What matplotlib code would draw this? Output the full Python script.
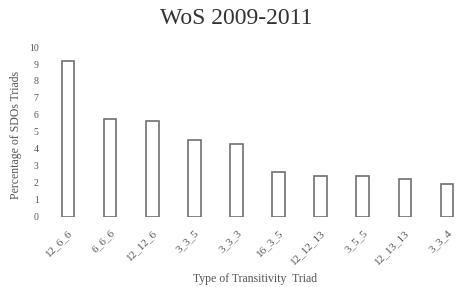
import matplotlib
matplotlib.use("Agg")
import matplotlib.pyplot as plt

# Data
triads = ["12_6_6", "6_6_6", "12_12_6", "3_3_5", "3_3_3",
          "16_3_5", "12_12_13", "3_5_5", "12_13_13", "3_3_4"]
percent = [9.2, 5.75, 5.65, 4.5, 4.3, 2.65, 2.4, 2.4, 2.2, 1.9]
yticks = list(range(0, 11))

plt.rcParams['font.family'] = ['Liberation Serif', 'DejaVu Serif']

fig = plt.figure(figsize=(4.6, 2.87), dpi=100)
ax = fig.add_axes([47 / 460, 0.245, 413 / 460, 0.591])

ax.bar(range(len(triads)), percent, width=0.3, color='white',
       edgecolor='#707070', linewidth=1.2)

ax.set_xlim(-0.5, 9.31)
ax.set_ylim(0, 10)
ax.set_yticks(yticks)
ax.set_xticks(range(len(triads)))
ax.set_xticklabels(triads, rotation=45, ha='right', rotation_mode='anchor')
ax.tick_params(axis='both', length=0, labelsize=7, labelcolor='#555555', pad=6)
ax.tick_params(axis='x', labelsize=8, pad=8)

for s in ax.spines.values():
    s.set_visible(False)

fig.text(0.514, 0.934, "WoS 2009-2011", ha='center', va='center',
         fontsize=17, color='#333333')
fig.text(0.035, 0.53, "Percentage of SDOs Triads", rotation=90,
         ha='center', va='center', fontsize=8.5, color='#555555')
fig.text(0.555, 0.028, "Type of Transitivity  Triad", ha='center', va='center',
         fontsize=8.5, color='#555555')

fig.savefig("out.png", dpi=100, facecolor='white')
